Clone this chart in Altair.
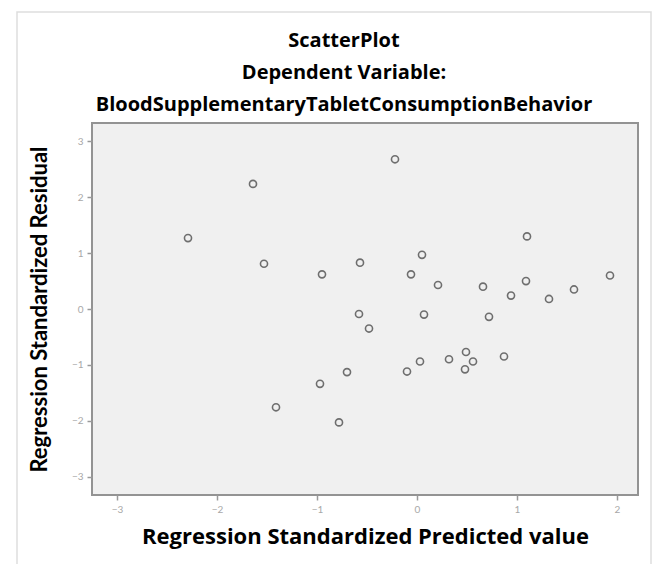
import altair as alt
import pandas as pd

pred = [-1.64, -2.29, -1.53, -0.95, -0.57, -0.58, -0.22, 1.10, 0.05, -0.06,
        0.21, 0.66, 0.94, 1.09, 1.32, 1.57, 1.93, 0.07, 0.72, -0.48,
        -0.70, -0.97, -1.41, -0.78, -0.10, 0.03, 0.32, 0.49, 0.56, 0.48, 0.87]
resid = [2.24, 1.27, 0.81, 0.62, 0.83, -0.09, 2.68, 1.30, 0.97, 0.62,
         0.43, 0.40, 0.24, 0.50, 0.18, 0.35, 0.60, -0.10, -0.14, -0.35,
         -1.13, -1.34, -1.76, -2.03, -1.12, -0.94, -0.90, -0.77, -0.94, -1.08, -0.85]
x_ticks = [-3, -2, -1, 0, 1, 2]
y_ticks = [-3, -2, -1, 0, 1, 2, 3]
title_lines = ["ScatterPlot", "Dependent Variable:", "BloodSupplementaryTabletConsumptionBehavior"]

df = pd.DataFrame({"pred": pred, "resid": resid})
tdf = pd.DataFrame({"t": ["\n".join(title_lines)]})

points = alt.Chart(df).mark_point(
    shape="circle", filled=False, stroke="#6e6e6e", strokeWidth=1.6, size=50, opacity=1
).encode(
    x=alt.X("pred:Q", scale=alt.Scale(domain=[-3.25, 2.21], nice=False, zero=False),
            axis=alt.Axis(values=x_ticks, title="Regression Standardized Predicted value",
                          titlePadding=12, labelPadding=4, titleFont="Open Sans",
                          titleFontSize=22)),
    y=alt.Y("resid:Q", scale=alt.Scale(domain=[-3.33, 3.33], nice=False, zero=False),
            axis=alt.Axis(values=y_ticks, title="Regression Standardized Residual",
                          titlePadding=20, labelPadding=4, titleFont="Lato",
                          titleFontSize=22)),
)

border = alt.Chart(df).mark_rect(
    fill=None, stroke="#dedede", strokeWidth=1.5
).encode(
    x=alt.value(-75), x2=alt.value(559), y=alt.value(-111), y2=alt.value(442)
).transform_filter("datum.pred == " + str(pred[0]))

title = alt.Chart(tdf).mark_text(
    font="Open Sans", fontSize=20, fontWeight="bold", color="black",
    align="center", baseline="middle", lineBreak="\n", lineHeight=32
).encode(text="t:N", x=alt.value(252), y=alt.value(-82))

chart = alt.layer(border, title, points).properties(
    width=546,
    height=372,
    autosize=alt.AutoSizeParams(type="none"),
    padding={"left": 84, "top": 115, "right": 18, "bottom": 69},
    background="white",
).configure_view(
    fill="#f0f0f0", stroke="#939393", strokeWidth=2
).configure_axis(
    grid=False, domain=False,
    labelColor="#a8a8a8", labelFontSize=10, labelFont="Lato",
    tickColor="#9a9a9a", tickSize=5, tickWidth=1.5,
    titleFontWeight="bold", titleColor="black",
)

chart.save("out.html", embed_options={"renderer": "svg", "actions": False})
